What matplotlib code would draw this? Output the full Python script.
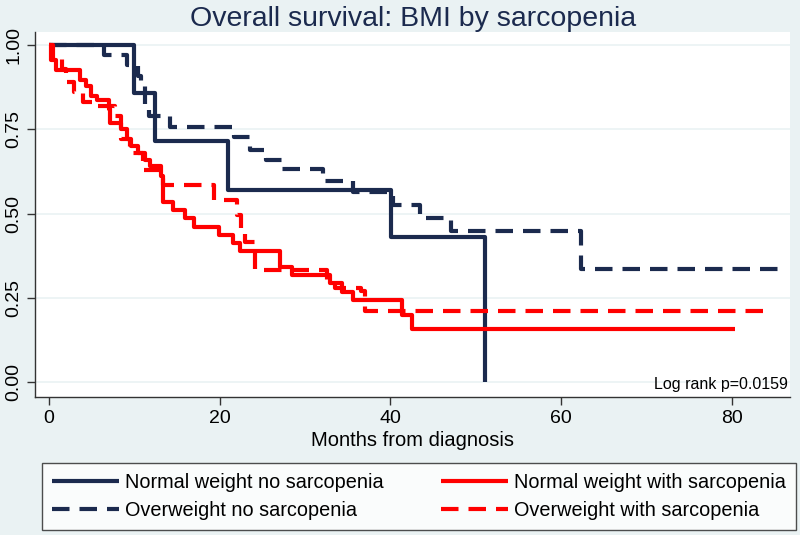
import matplotlib
matplotlib.use("Agg")
import matplotlib.pyplot as plt
from matplotlib.lines import Line2D

plt.rcParams['font.family'] = ['Liberation Sans', 'DejaVu Sans']

navy = "#1b2a4e"
red = "#ff0000"
bg = "#eaf2f3"

# Kaplan-Meier step curves (months, survival)
nw_no_t = [0, 10.0, 12.4, 21.0, 40.1, 51.1]
nw_no_s = [1.0, 0.857, 0.714, 0.571, 0.429, 0.0]

ow_no_t = [0, 6.5, 9.2, 10.4, 10.8, 11.3, 11.7, 14.2, 21.7, 23.6, 25.5, 27.3,
           32.1, 35.6, 40.3, 43.5, 47.1, 62.4, 86.0]
ow_no_s = [1.0, 0.97, 0.94, 0.91, 0.88, 0.82, 0.79, 0.757, 0.727, 0.69, 0.66, 0.632,
           0.596, 0.563, 0.525, 0.487, 0.448, 0.335, 0.335]

nw_sarc_t = [0, 0.3, 0.8, 3.7, 4.3, 4.9, 5.7, 7.0, 7.2, 8.4, 9.2, 9.6, 10.4, 11.3,
             11.9, 13.1, 13.4, 14.5, 16.0, 17.0, 19.9, 21.6, 22.4, 27.1, 28.5,
             32.9, 34.4, 35.6, 41.4, 42.6, 80.4]
nw_sarc_s = [1.0, 0.955, 0.926, 0.896, 0.88, 0.85, 0.837, 0.81, 0.77, 0.75, 0.72,
             0.70, 0.68, 0.66, 0.64, 0.61, 0.535, 0.51, 0.487, 0.46, 0.436, 0.412,
             0.39, 0.34, 0.317, 0.293, 0.267, 0.243, 0.20, 0.157, 0.157]

ow_sarc_t = [0, 0.5, 1.5, 2.0, 3.0, 4.0, 5.5, 7.8, 8.4, 9.5, 11.0, 13.4, 19.3,
             22.0, 22.5, 23.0, 24.2, 32.6, 33.5, 36.6, 37.0, 84.0]
ow_sarc_s = [1.0, 0.96, 0.93, 0.89, 0.86, 0.83, 0.82, 0.79, 0.72, 0.68, 0.63,
             0.585, 0.54, 0.495, 0.457, 0.415, 0.332, 0.30, 0.28, 0.27, 0.21, 0.21]

x_ticks = [0, 20, 40, 60, 80]
y_ticks = [0.0, 0.25, 0.5, 0.75, 1.0]

fig = plt.figure(figsize=(8, 5.35), dpi=100, facecolor=bg)
ax = fig.add_axes([0.044, 0.258, 0.944, 0.682])
ax.set_facecolor("white")

lw = 3.0
dash = (0, (4.2, 2.4))
ax.plot(nw_no_t, nw_no_s, drawstyle="steps-post", color=navy, lw=lw,
        solid_capstyle="butt", label="Normal weight no sarcopenia")
ax.plot(ow_no_t, ow_no_s, drawstyle="steps-post", color=navy, lw=lw, ls=dash,
        dash_capstyle="butt", label="Overweight no sarcopenia")
ax.plot(nw_sarc_t, nw_sarc_s, drawstyle="steps-post", color=red, lw=lw,
        solid_capstyle="butt", label="Normal weight with sarcopenia")
ax.plot(ow_sarc_t, ow_sarc_s, drawstyle="steps-post", color=red, lw=lw, ls=dash,
        dash_capstyle="butt", label="Overweight with sarcopenia")

ax.set_xlim(-1.6, 86.9)
ax.set_ylim(-0.045, 1.039)
ax.set_xticks(x_ticks)
ax.set_yticks(y_ticks)
ax.set_yticklabels([f"{v:.2f}" for v in y_ticks], rotation=90, va="center")
ax.tick_params(axis="both", labelsize=14, color="#333333", length=6, width=1)
ax.grid(axis="y", color=bg, lw=1.2)
ax.set_axisbelow(True)
for side in ["top", "right"]:
    ax.spines[side].set_visible(False)
for side in ["left", "bottom"]:
    ax.spines[side].set_color("#333333")
    ax.spines[side].set_linewidth(1)

ax.set_xlabel("Months from diagnosis", fontsize=14.5, labelpad=3)
ax.set_title("Overall survival: BMI by sarcopenia", fontsize=20.5, color=navy, pad=2)
ax.text(0.997, 0.035, "Log rank p=0.0159", transform=ax.transAxes,
        ha="right", va="center", fontsize=11.5)

handles = [
    Line2D([], [], color=navy, lw=lw, solid_capstyle="butt"),
    Line2D([], [], color=navy, lw=lw, ls=dash, dash_capstyle="butt"),
    Line2D([], [], color=red, lw=lw, solid_capstyle="butt"),
    Line2D([], [], color=red, lw=lw, ls=dash, dash_capstyle="butt"),
]
labels = ["Normal weight no sarcopenia", "Overweight no sarcopenia",
          "Normal weight with sarcopenia", "Overweight with sarcopenia"]
leg = fig.legend(handles, labels, ncol=2, loc="lower left",
                 bbox_to_anchor=(0.052, 0.009, 0.943, 0.127), mode="expand",
                 borderaxespad=0,
                 fontsize=14.3, frameon=True, fancybox=False, edgecolor="#222222",
                 handlelength=3.4, handletextpad=0.3, columnspacing=0.3,
                 borderpad=0.5, labelspacing=0.45)
leg.get_frame().set_linewidth(1)
leg.get_frame().set_facecolor("white")

fig.savefig("out.png", dpi=100, facecolor=bg)
